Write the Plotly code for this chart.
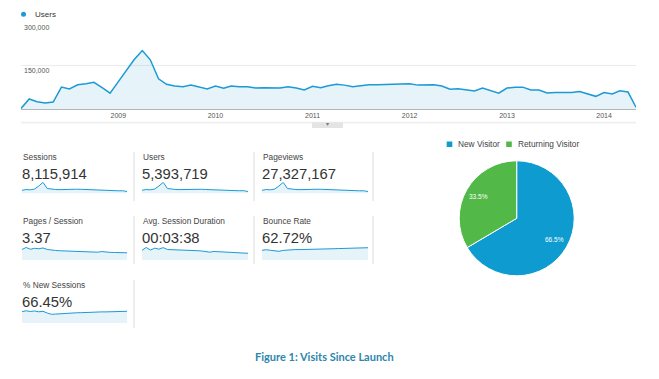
import math
import plotly.graph_objects as go
import pandas as pd

# The page body adds an 8px margin; the figure is sized/positioned to compensate.
PAGE_W, PAGE_H = 659, 379
OX, OY = 8, 8
W, H = PAGE_W - OX, PAGE_H - OY

# ---------------- data ----------------
months = pd.date_range("2008-01-01", "2014-05-01", freq="MS")
users_monthly = [2000, 35000, 25000, 21000, 24000, 76000, 70000, 84000, 88000, 93000,
                 74000, 55000, 95000, 133000, 171000, 203000, 171000, 105000, 86000, 80000,
                 77000, 83000, 77000, 70000, 80000, 72000, 80000, 77000, 77000, 73000,
                 74000, 73000, 73000, 77000, 73000, 66000, 79000, 74000, 81000, 86000,
                 83000, 77000, 80000, 84000, 84000, 85000, 85000, 85000, 88000, 83000,
                 84000, 84000, 80000, 69000, 70000, 67000, 63000, 73000, 64000, 55000,
                 73000, 76000, 76000, 66000, 66000, 56000, 57000, 56000, 57000, 61000,
                 51000, 44000, 57000, 52000, 63000, 59000, 6000]
year_ticks = ["2009-01-01", "2010-01-01", "2011-01-01", "2012-01-01", "2013-01-01", "2014-01-01"]
year_labels = ["2009", "2010", "2011", "2012", "2013", "2014"]
y_ticks = [150000, 300000]

sessions_q = [106, 120, 115, 129, 183, 250, 138, 124, 120, 118, 122, 120, 124, 125, 124, 120,
              115, 111, 107, 113, 106, 102, 100, 97, 98, 84]
users_q = [70, 79, 76, 85, 121, 165, 91, 82, 79, 78, 80, 79, 82, 82, 82, 79,
           76, 73, 71, 75, 70, 67, 66, 64, 65, 55]
pageviews_q = [360, 408, 391, 439, 622, 850, 469, 422, 408, 401, 415, 408, 422, 425, 422, 408,
               391, 377, 364, 384, 360, 347, 340, 330, 333, 286]
pages_per_session_q = [3.79, 4.20, 3.83, 4.03, 3.93, 4.10, 3.79, 3.64, 3.58, 3.52, 3.47, 3.43, 3.41,
                       3.37, 3.35, 3.33, 3.31, 3.27, 3.22, 3.35, 3.22, 3.18, 3.16, 3.14, 3.14, 3.10]
avg_duration_q = [233, 273, 237, 263, 249, 271, 244, 243, 240, 237, 236, 233, 230,
                  227, 223, 219, 206, 216, 214, 211, 209, 206, 203, 200, 197, 190]
bounce_rate_q = [60.1, 61.9, 60.1, 58.5, 57.0, 59.8, 61.3, 61.6, 62.4, 62.3, 62.9, 63.0, 63.6,
                 63.5, 64.1, 64.2, 64.8, 64.9, 65.4, 65.5, 66.0, 66.1, 66.6, 66.7, 67.2, 68.0]
new_sessions_q = [70.8, 74.6, 71.7, 73.8, 70.4, 72.5, 65.4, 60.0, 60.8, 62.5, 63.8, 64.6, 65.4,
                  66.3, 66.7, 67.9, 68.3, 69.2, 69.6, 70.0, 70.0, 70.8, 71.3, 71.7, 71.7, 72.5]

metric_names = ["Sessions", "Users", "Pageviews", "Pages / Session", "Avg. Session Duration",
                "Bounce Rate", "% New Sessions"]
metric_totals = ["8,115,914", "5,393,719", "27,327,167", "3.37", "00:03:38", "62.72%", "66.45%"]
metric_series = [sessions_q, users_q, pageviews_q, pages_per_session_q, avg_duration_q,
                 bounce_rate_q, new_sessions_q]
metric_ranges = [(52, 250), (34, 165), (177, 850), (1.6, 4.3), (94, 280), (30.4, 70.2), (23.7, 77.9)]

visitor_types = ["New Visitor", "Returning Visitor"]
visitor_share = [66.5, 33.5]

# ---------------- styles ----------------
LINE = "#1b9ad6"
FILL = "rgba(5,141,199,0.10)"
PIE_COLORS = ["#0e9bcf", "#52b848"]
FONT = "Liberation Sans, Arial, sans-serif"


def px(x):
    return (x - OX) / W


def py(y):
    return 1 - (y - OY) / H


fig = go.Figure()

# main area chart
fig.add_trace(go.Scatter(
    x=months, y=users_monthly, mode="lines", fill="tozeroy",
    line=dict(color=LINE, width=1.5), fillcolor=FILL,
    xaxis="x", yaxis="y", hoverinfo="skip", showlegend=False))

layout = dict(
    width=W, height=H, margin=dict(l=0, r=0, t=0, b=0),
    paper_bgcolor="white", plot_bgcolor="rgba(0,0,0,0)",
    font=dict(family=FONT, color="#444"), showlegend=False,
    xaxis=dict(domain=[px(21), px(636)], range=[months[0], months[-1]],
               tickvals=year_ticks, ticktext=year_labels, showgrid=False,
               showline=True, linecolor="#b5b5b5", linewidth=1, ticks="",
               tickfont=dict(size=7, color="#555"), zeroline=False, fixedrange=True),
    yaxis=dict(domain=[py(109), py(22.7)], range=[0, 300000], tickvals=y_ticks,
               tickformat=",d", showgrid=True, gridcolor="#ececec", gridwidth=1,
               zeroline=False, ticklabelposition="inside bottom",
               tickfont=dict(size=7, color="#555"), fixedrange=True),
)

# sparklines
col_x = [(22, 127), (142, 248), (262, 368)]
row_y = [(182.3, 193.3), (247, 260), (310, 323)]
label_x = [21, 141, 261]
label_y = [156.7, 221, 285]
value_y = [173.6, 237.6, 301.8]

annotations = []
shapes = []

for i, (name, total, series, rng) in enumerate(zip(metric_names, metric_totals,
                                                  metric_series, metric_ranges)):
    r, c = divmod(i, 3)
    k = i + 2
    xa, ya = f"x{k}", f"y{k}"
    fig.add_trace(go.Scatter(
        x=list(range(len(series))), y=series, mode="lines", fill="tozeroy",
        line=dict(color=LINE, width=1), fillcolor=FILL,
        xaxis=xa, yaxis=ya, hoverinfo="skip", showlegend=False))
    layout[f"xaxis{k}"] = dict(domain=[px(col_x[c][0]), px(col_x[c][1])],
                               range=[0, len(series) - 1], visible=False, fixedrange=True)
    layout[f"yaxis{k}"] = dict(domain=[py(row_y[r][1]), py(row_y[r][0])],
                               range=list(rng), visible=False, fixedrange=True)
    annotations.append(dict(text=name, x=px(label_x[c]), y=py(label_y[r]), xref="paper",
                            yref="paper", xanchor="left", yanchor="middle", showarrow=False,
                            font=dict(size=8.3, color="#444")))
    annotations.append(dict(text=total, x=px(label_x[c] - 1), y=py(value_y[r]), xref="paper",
                            yref="paper", xanchor="left", yanchor="middle", showarrow=False,
                            font=dict(size=14.8, color="#333")))

# vertical separators between metric boxes
sep_rows = [(152, 201, [134, 254, 373]), (216, 264, [134, 254, 373]), (280, 328, [134])]
for y0, y1, xs in sep_rows:
    for xs_ in xs:
        shapes.append(dict(type="line", xref="paper", yref="paper", x0=px(xs_), x1=px(xs_),
                           y0=py(y0), y1=py(y1), line=dict(color="#dcdcdc", width=1)))

# pie
PIE_CX, PIE_CY, PIE_R = 516.7, 218.3, 57.5
fig.add_trace(go.Pie(
    labels=visitor_types, values=visitor_share, sort=False, direction="clockwise",
    rotation=0, marker=dict(colors=PIE_COLORS, line=dict(color="white", width=1)),
    textinfo="none",
    domain=dict(x=[px(PIE_CX - PIE_R), px(PIE_CX + PIE_R)],
                y=[py(PIE_CY + PIE_R), py(PIE_CY - PIE_R)]),
    hoverinfo="skip", showlegend=False))

# percentage labels placed along each slice's mid-angle (derived from the data)
total_share = sum(visitor_share)
cum = 0.0
for share in visitor_share:
    frac = (cum + share / 2) / total_share
    theta = 2 * math.pi * frac
    lx = PIE_CX + 0.76 * PIE_R * math.sin(theta)
    ly = PIE_CY - 0.76 * PIE_R * math.cos(theta)
    annotations.append(dict(text=f"{share / total_share * 100:.1f}%", x=px(lx), y=py(ly),
                            xref="paper", yref="paper", xanchor="center", yanchor="middle",
                            showarrow=False, font=dict(size=6.5, color="white")))
    cum += share

# pie legend
legend_items = [(449.5, 456, visitor_types[0], PIE_COLORS[0]),
                (509, 516, visitor_types[1], PIE_COLORS[1])]
for sx, tx, lab, col in legend_items:
    shapes.append(dict(type="rect", xref="paper", yref="paper", x0=px(sx - 2.8), x1=px(sx + 2.8),
                       y0=py(147), y1=py(141.5), fillcolor=col, line=dict(width=0)))
    annotations.append(dict(text=lab, x=px(tx), y=py(144.3), xref="paper", yref="paper",
                            xanchor="left", yanchor="middle", showarrow=False,
                            font=dict(size=8.3, color="#444")))

# main chart legend ("Users")
shapes.append(dict(type="circle", xref="paper", yref="paper", x0=px(21), x1=px(26),
                   y0=py(16.7), y1=py(11.7), fillcolor=LINE, line=dict(width=0)))
annotations.append(dict(text="Users", x=px(32.5), y=py(14.3), xref="paper", yref="paper",
                        xanchor="left", yanchor="middle", showarrow=False,
                        font=dict(size=8, color="#333")))

# scroll bar under the main chart
shapes.append(dict(type="rect", xref="paper", yref="paper", x0=px(21), x1=px(636),
                   y0=py(123.5), y1=py(121.8), fillcolor="#f0f0f0", line=dict(width=0)))
shapes.append(dict(type="rect", xref="paper", yref="paper", x0=px(312), x1=px(343),
                   y0=py(128), y1=py(122.3), fillcolor="#e4e4e4", line=dict(width=0)))
annotations.append(dict(text="▾", x=px(327.5), y=py(124.5), xref="paper", yref="paper",
                        xanchor="center", yanchor="middle", showarrow=False,
                        font=dict(size=6, color="#777")))

# caption
annotations.append(dict(text="<b>Figure 1: Visits Since Launch</b>", x=px(324), y=py(356),
                        xref="paper", yref="paper", xanchor="center", yanchor="middle",
                        showarrow=False, font=dict(size=11, color="#2c86ac", family="Lato")))

layout["annotations"] = annotations
layout["shapes"] = shapes
fig.update_layout(**layout)

fig.write_html("out.html")
